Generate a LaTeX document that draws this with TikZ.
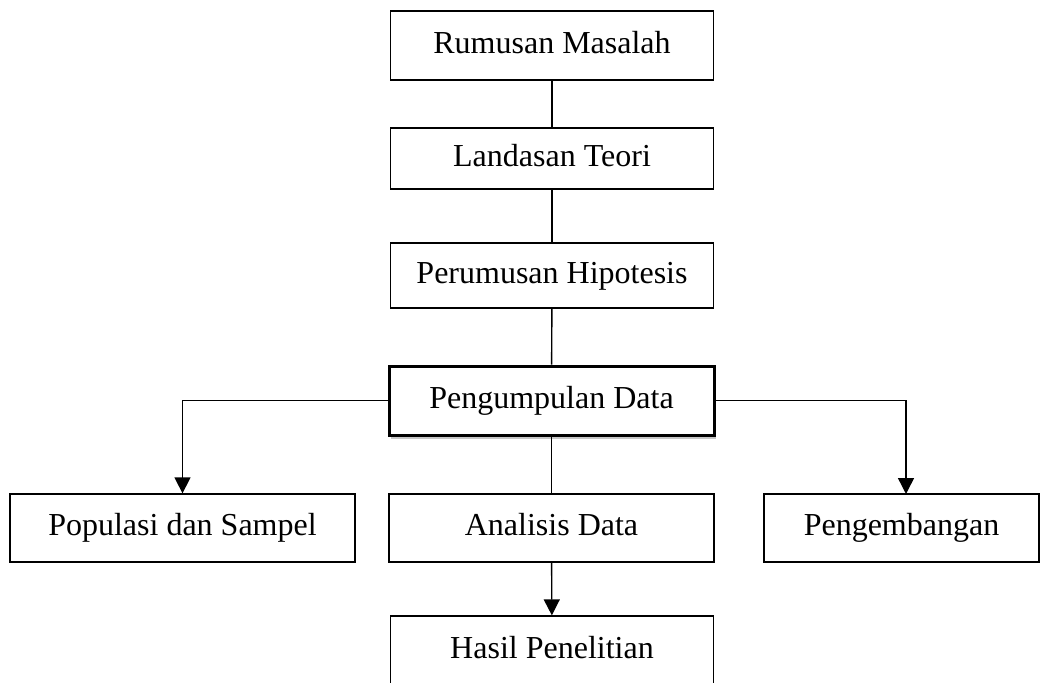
\documentclass[tikz,border=0pt]{standalone}
\usepackage{fontspec}
\setmainfont{Liberation Serif}
\usepackage{tikz}
\usetikzlibrary{arrows.meta,shadows}

\tikzset{
  kotak/.style={draw, line width=1.3pt, inner sep=0pt, minimum width=323pt, minimum height=66pt,
    text height=22pt, text depth=7pt, font=\fontsize{32}{38}\selectfont},
  panah/.style={line width=1.4pt, -{Triangle[length=16pt,width=16pt]}},
  garis/.style={line width=1.4pt}
}

\begin{document}
\begin{tikzpicture}[x=1pt, y=-1pt]
  \useasboundingbox (0,0) rectangle (1047,683);
  \begin{scope}
  \clip (0,0) rectangle (1047,682);

  \node[kotak, minimum height=69pt] (rm) at (552,45.5) {Rumusan Masalah};
  \node[kotak, minimum height=61pt] (lt) at (552,158.5) {Landasan Teori};
  \node[kotak, minimum height=65pt] (ph) at (552,275.5) {Perumusan Hipotesis};
  \node[kotak, line width=3pt, minimum width=325pt, minimum height=69pt,
        fill=white, drop shadow={opacity=0.45, shadow xshift=2pt, shadow yshift=-4pt}]
        (pd) at (551.5,400.5) {Pengumpulan Data};

  \node[kotak, minimum width=345pt, minimum height=68pt] (ps) at (182.5,528) {Populasi dan Sampel};
  \node[kotak, minimum width=325pt, minimum height=68pt] (ad) at (551.5,528) {Analisis Data};
  \node[kotak, minimum width=275pt, minimum height=68pt] (pg) at (901.5,528) {Pengembangan};

  \node[kotak, minimum height=70pt] (hp) at (552,651) {Hasil Penelitian};

  \coordinate (pgin) at (906,494);

  % garis tengah
  \draw[garis] (rm) -- (lt);
  \draw[garis] (lt) -- (ph);
  \draw[garis] (ph) -- (pd);
  \draw[garis] (pd) -- (ad);

  % cabang
  \draw[panah] (pd.west) -| (ps.north);
  \draw[panah] (pd.east) -| (pgin);
  \draw[panah] (ad) -- (hp);
  \end{scope}
\end{tikzpicture}
\end{document}
